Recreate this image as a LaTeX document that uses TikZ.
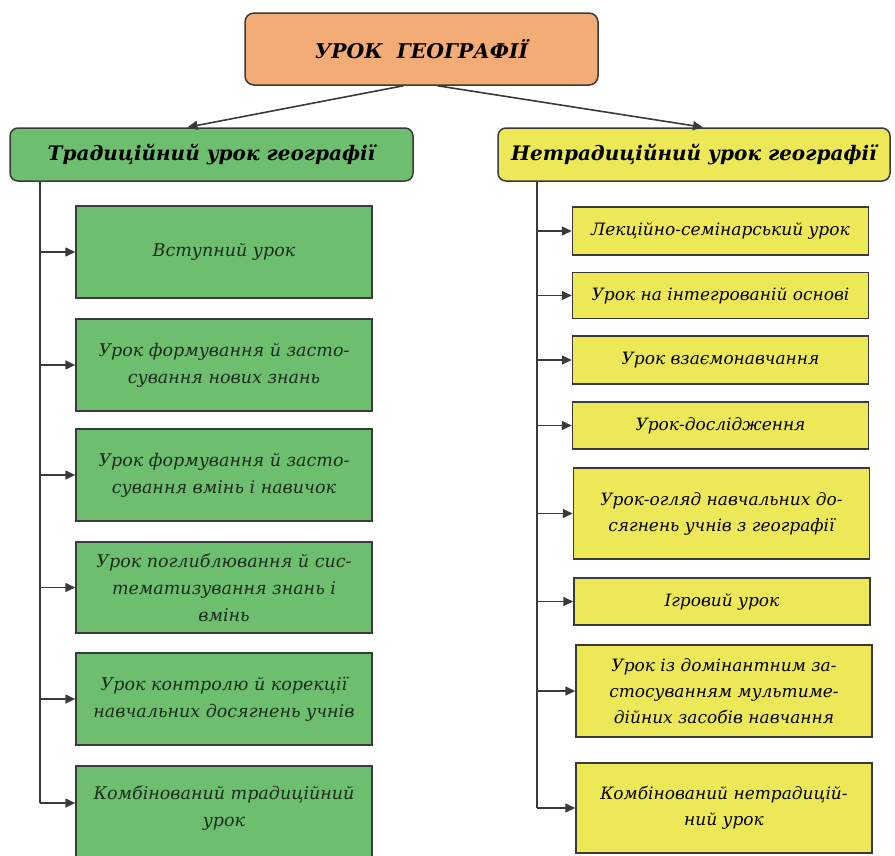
\documentclass[tikz,border=0pt]{standalone}
\usepackage{fontspec}
\setmainfont{DejaVu Serif}
\usetikzlibrary{arrows.meta}
\definecolor{orangefill}{HTML}{F3AC76}
\definecolor{greenfill}{HTML}{6DBF6F}
\definecolor{yellowfill}{HTML}{EDE857}
\definecolor{edgecol}{HTML}{3A3A3A}
\definecolor{txtgreen}{HTML}{1C2C1C}
\tikzset{
  basebox/.style={draw=edgecol, line width=1.5pt, align=center, inner sep=0pt},
  titlebox/.style={basebox, fill=orangefill, rounded corners=9pt, minimum width=353pt, minimum height=72pt,
    font=\fontsize{20.3}{24}\selectfont\bfseries\itshape},
  headg/.style={basebox, fill=greenfill, rounded corners=8pt, minimum width=403pt, minimum height=53pt,
    font=\fontsize{20}{24}\selectfont\bfseries\itshape},
  heady/.style={basebox, fill=yellowfill, rounded corners=8pt, minimum width=392pt, minimum height=53pt,
    font=\fontsize{20}{24}\selectfont\bfseries\itshape},
  gbox/.style={basebox, fill=greenfill, minimum width=296pt, text=txtgreen,
    font=\fontsize{17.5}{27}\selectfont\itshape},
  ybox/.style={basebox, fill=yellowfill, minimum width=296pt,
    font=\fontsize{17}{26}\selectfont\itshape},
  arr/.style={draw=edgecol, fill=edgecol, line width=1.6pt, -{Triangle[length=10pt,width=9pt]}},
  trunk/.style={draw=edgecol, line width=1.6pt}
}
\begin{document}
\begin{tikzpicture}[x=1pt,y=-1pt]
\useasboundingbox (0,0) rectangle (895,855);
% top
\node[titlebox] (top) at (421.5,49) {УРОК\ \ ГЕОГРАФІЇ};
% headings
\node[headg] (lh) at (211.5,154.5) {Традиційний урок географії};
\node[heady] (rh) at (694,154.5) {Нетрадиційний урок географії};
\draw[arr] ([xshift=-18pt]top.south) -- ([xshift=-24pt]lh.north);
\draw[arr] ([xshift=16pt]top.south) -- ([xshift=9pt]rh.north);
% left children
\node[gbox, minimum height=92pt] (l1) at (224,252) {Вступний урок};
\node[gbox, minimum height=92pt] (l2) at (224,365) {Урок формування й засто-\\сування нових знань};
\node[gbox, minimum height=92pt] (l3) at (224,475) {Урок формування й засто-\\сування вмінь і навичок};
\node[gbox, minimum height=91pt] (l4) at (224,587.5) {Урок поглиблювання й сис-\\тематизування знань і\\вмінь};
\node[gbox, minimum height=92pt] (l5) at (224,699) {Урок контролю й корекції\\навчальних досягнень учнів};
\node[gbox, minimum height=96pt] (l6) at (224,814) {};
\node[font=\fontsize{17.5}{27}\selectfont\itshape, text=txtgreen, align=center] (l6t) at (224,808) {Комбінований традиційний\\урок};
\coordinate (lt) at (40,181);
\coordinate (lend) at (40,803);
\draw[trunk] (lh.south -| lt) -- (lend);
\draw[arr] (lt |- l1.west) -- (l1.west);
\draw[arr] (lt |- l2.west) -- (l2.west);
\draw[arr] (lt |- l3.west) -- (l3.west);
\draw[arr] (lt |- l4.west) -- (l4.west);
\draw[arr] (lt |- l5.west) -- (l5.west);
\draw[arr] (lend) -- (lend -| l6.west);
% right children
\node[ybox, minimum height=48pt] (r1) at (720.5,231) {Лекційно-семінарський урок};
\node[ybox, minimum height=46pt] (r2) at (720.5,295.5) {Урок на інтегрованій основі};
\node[ybox, minimum height=48pt] (r3) at (720.5,360) {Урок взаємонавчання};
\node[ybox, minimum height=47pt] (r4) at (720.5,425.5) {Урок-дослідження};
\node[ybox, minimum height=91pt] (r5) at (721.5,513.5) {Урок-огляд навчальних до-\\сягнень учнів з географії};
\node[ybox, minimum height=47pt] (r6) at (722,601.5) {Ігровий урок};
\node[ybox, minimum height=92pt] (r7) at (724,691) {Урок із домінантним за-\\стосуванням мультиме-\\дійних засобів навчання};
\node[ybox, minimum height=90pt] (r8) at (724,808) {Комбінований нетрадицій-\\ний урок};
\coordinate (rt) at (537,181);
\draw[trunk] (rh.south -| rt) -- (rt |- r8.west);
\draw[arr] (rt |- r1.west) -- (r1.west);
\draw[arr] (rt |- r2.west) -- (r2.west);
\draw[arr] (rt |- r3.west) -- (r3.west);
\draw[arr] (rt |- r4.west) -- (r4.west);
\draw[arr] (rt |- r5.west) -- (r5.west);
\draw[arr] (rt |- r6.west) -- (r6.west);
\draw[arr] (rt |- r7.west) -- (r7.west);
\draw[arr] (rt |- r8.west) -- (r8.west);
\end{tikzpicture}
\end{document}
